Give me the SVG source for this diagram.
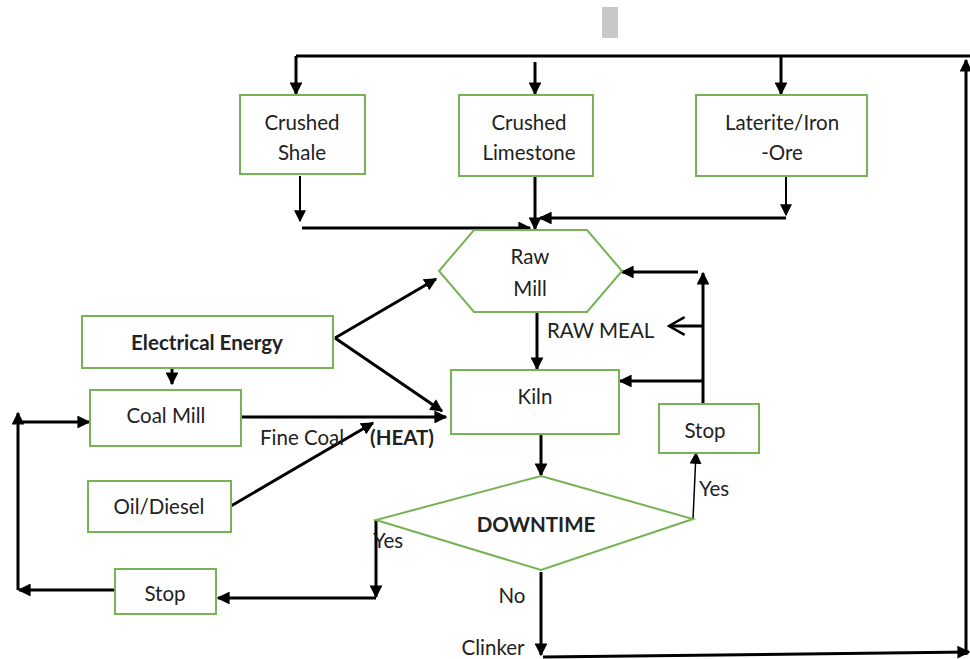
<svg xmlns="http://www.w3.org/2000/svg" width="970" height="659" viewBox="0 0 970 659">
<style>
.box{fill:#fff;stroke:#77b255;stroke-width:2}
.t{font-family:Lato,"Liberation Sans",sans-serif;font-size:20.5px;fill:#222;text-anchor:middle;dominant-baseline:central}
.b{font-weight:bold}
.l{text-anchor:start}
.c{fill:none;stroke:#000;stroke-width:3}
.thin{stroke-width:2}
.vt{stroke-width:1.5}
</style>
<defs>
<marker id="ah" viewBox="0 0 10 10" refX="9" refY="5" markerWidth="4.3" markerHeight="4.3" markerUnits="strokeWidth" orient="auto">
<path d="M0,0L10,5L0,10z" fill="#000"/>
</marker>
<marker id="ah2" viewBox="0 0 10 10" refX="9" refY="5" markerWidth="6" markerHeight="6" markerUnits="strokeWidth" orient="auto">
<path d="M0,0L10,5L0,10z" fill="#000"/>
</marker>
<marker id="ah3" viewBox="0 0 10 10" refX="9" refY="5" markerWidth="8" markerHeight="8" markerUnits="strokeWidth" orient="auto">
<path d="M0,0L10,5L0,10z" fill="#000"/>
</marker>
<marker id="open" viewBox="0 0 10 10" refX="9" refY="5" markerWidth="6.5" markerHeight="6.5" markerUnits="strokeWidth" orient="auto">
<path d="M1,0.5L9,5L1,9.5" fill="none" stroke="#000" stroke-width="1.3"/>
</marker>
</defs>
<rect x="602" y="7" width="16" height="31" fill="#c8c8c8"/>
<g id="connectors">
<path class="c" d="M296,56H970"/>
<path class="c" d="M296,56V94" marker-end="url(#ah)"/>
<path class="c" d="M535,62V94" marker-end="url(#ah)"/>
<path class="c" d="M781,56V94" marker-end="url(#ah)"/>
<path class="c thin" d="M300,176V221" marker-end="url(#ah2)"/>
<path class="c" d="M302,228H530" marker-end="url(#ah)"/>
<path class="c" d="M535,176V229" marker-end="url(#ah)"/>
<path class="c thin" d="M786,176V215" marker-end="url(#ah2)"/>
<path class="c" d="M786,218H540" marker-end="url(#ah)"/>
<path class="c" d="M537,312V369" marker-end="url(#ah)"/>
<path class="c" d="M703,403V273" marker-end="url(#ah)"/>
<path class="c" d="M698,272H622" marker-end="url(#ah)"/>
<path class="c" d="M703,381H620" marker-end="url(#ah)"/>
<path class="c" d="M703,326H669" marker-end="url(#open)"/>
<path class="c" d="M541,434V475" marker-end="url(#ah)"/>
<path class="c vt" d="M693,519L696,453" marker-end="url(#ah3)"/>
<path class="c" d="M376,520V597" marker-end="url(#ah)"/>
<path class="c" d="M376,598H218" marker-end="url(#ah)"/>
<path class="c" d="M115,590H19" marker-end="url(#ah)"/>
<path class="c" d="M18,590V413" marker-end="url(#ah)"/>
<path class="c" d="M22,422H89" marker-end="url(#ah)"/>
<path class="c" d="M172,368V384" marker-end="url(#ah)"/>
<path class="c" d="M335,338L436,279" marker-end="url(#ah)"/>
<path class="c" d="M335,338L442,411" marker-end="url(#ah)"/>
<path class="c" d="M241,417H446" marker-end="url(#ah)"/>
<path class="c" d="M231,506L373,423" marker-end="url(#ah)"/>
<path class="c" d="M541,572V655" marker-end="url(#ah)"/>
<path class="c" d="M543,657L969,652" marker-end="url(#ah)"/>
<path class="c" d="M966,655V60" marker-end="url(#ah)"/>
</g>
<g id="shale"><rect class="box" x="240" y="95" width="125" height="79"/><text class="t" x="302" y="122">Crushed</text><text class="t" x="302" y="152">Shale</text></g>
<g id="limestone"><rect class="box" x="459" y="95" width="134" height="81"/><text class="t" x="529" y="122">Crushed</text><text class="t" x="529" y="152">Limestone</text></g>
<g id="laterite"><rect class="box" x="696" y="95" width="171" height="81"/><text class="t" x="782" y="122">Laterite/Iron</text><text class="t" x="782" y="152">-Ore</text></g>
<g id="rawmill"><path class="box" d="M474,230H587L622,271L587,312H474L439,271Z"/><text class="t" x="530" y="256">Raw</text><text class="t" x="530" y="288">Mill</text></g>
<g id="rawmeal"><text class="t l" x="547" y="330">RAW MEAL</text></g>
<g id="kiln"><rect class="box" x="451" y="370" width="168" height="64"/><text class="t" x="535" y="396">Kiln</text></g>
<g id="electrical"><rect class="box" x="82" y="316" width="251" height="52"/><text class="t b" x="207" y="342">Electrical Energy</text></g>
<g id="coalmill"><rect class="box" x="90" y="390" width="151" height="56"/><text class="t" x="166" y="415">Coal Mill</text></g>
<g id="labels"><text class="t l" x="260" y="437">Fine Coal</text><text class="t l b" x="370" y="437">(HEAT)</text></g>
<g id="oil"><rect class="box" x="88" y="481" width="143" height="51"/><text class="t" x="159" y="506">Oil/Diesel</text></g>
<g id="stop1"><rect class="box" x="659" y="404" width="100" height="49"/><text class="t" x="705" y="430">Stop</text></g>
<g id="downtime"><path class="box" d="M541,476L693,519L541,570L376,520Z"/><text class="t b" x="536" y="524">DOWNTIME</text></g>
<g id="yes"><text class="t" x="714" y="488">Yes</text><text class="t l" x="373" y="540">Yes</text></g>
<g id="stop2"><rect class="box" x="115" y="569" width="101" height="45"/><text class="t" x="165" y="593">Stop</text></g>
<g id="bottom"><text class="t" x="512" y="595">No</text><text class="t" x="493" y="647">Clinker</text></g>
</svg>
